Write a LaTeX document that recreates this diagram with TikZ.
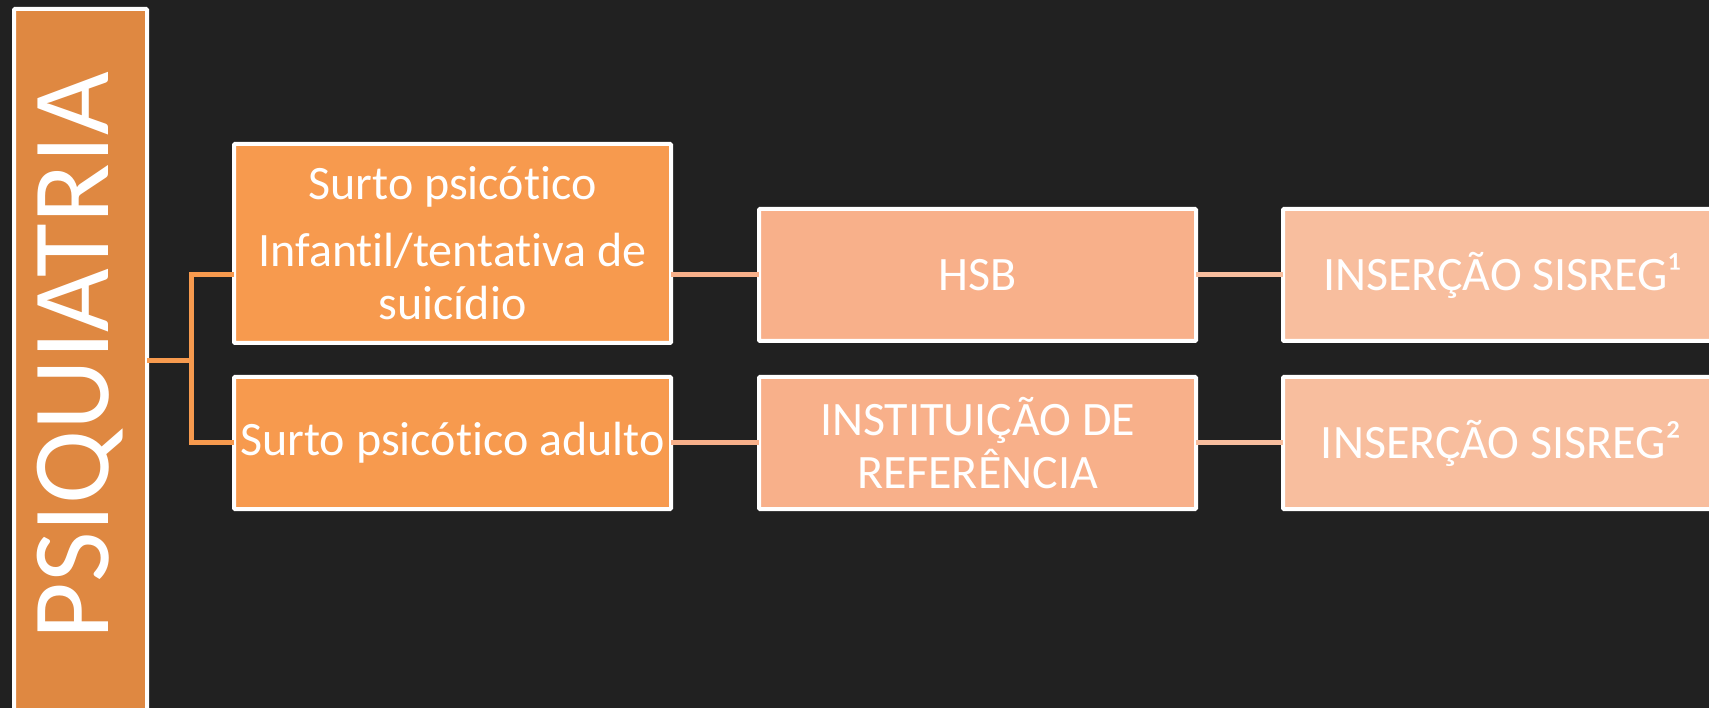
\documentclass[tikz,border=0pt]{standalone}
\usepackage{fontspec}
\setmainfont{Carlito}[RawFeature={-liga;-clig;-calt;-dlig}]
\usetikzlibrary{positioning}
\definecolor{bgdark}{HTML}{212121}
\definecolor{psiqorange}{HTML}{DF8841}
\definecolor{firstorange}{HTML}{F79A4E}
\definecolor{secondorange}{HTML}{F8B08A}
\definecolor{thirdorange}{HTML}{F8BE9E}
\tikzset{
x=1pt, y=-1pt, % pixel units, y grows downwards
node distance=88pt, % gap between the columns
box/.style={draw=white, line width=4pt, rounded corners=1pt, outer sep=0pt, inner sep=0pt,
  text=white, align=center, minimum width=437pt, minimum height=132pt,
  font=\fontsize{48}{53}\selectfont},
fork/.style={draw=firstorange, line width=5pt},
link/.style={draw=secondorange, line width=5pt},
}

\begin{document}
\begin{tikzpicture}
            \fill[bgdark] (0,0) rectangle (1709,708);
            \useasboundingbox (0,0) rectangle (1709,708);
            \clip (0,0) rectangle (1709,708);
            % left title bar
            \node[box, fill=psiqorange, minimum width=133pt, minimum height=704pt] (psiq) at (80.5,361) {};
            \node[text=white, rotate=90, font=\fontsize{110}{112}\selectfont] (psiqtext) at (80.5,356) {PSIQUIATRIA};
            % first column
            \node[box, fill=firstorange] (sp2) at (452.5,443) {Surto psicótico adulto};
            \node[box, fill=firstorange, minimum height=199pt, above=34pt of sp2] (sp1)
                {Surto psicótico\\[14pt] Infantil/tentativa de\\ suicídio};
            % second column
            \node[box, fill=secondorange, right=of sp2] (inst) {INSTITUIÇÃO DE\\ REFERÊNCIA};
            \node[box, fill=secondorange, above=36pt of inst] (hsb) {HSB};
            % third column
            \node[box, fill=thirdorange, right=87pt of inst] (ins2) {INSERÇÃO SISREG²};
            \node[box, fill=thirdorange, right=87pt of hsb] (ins1) {INSERÇÃO SISREG¹};
            % connectors
            \coordinate (split) at (191,361);
            \draw[fork] (psiq.east) -- (split) |- (sp1.west |- hsb.west);
            \draw[fork] (split) |- (sp2.west);
            \draw[link] (sp1.east |- hsb.west) -- (hsb.west);
            \draw[link] (sp2.east) -- (inst.west);
            \draw[link, draw=thirdorange] (hsb.east) -- (ins1.west);
            \draw[link, draw=thirdorange] (inst.east) -- (ins2.west);
\end{tikzpicture}
\end{document}
